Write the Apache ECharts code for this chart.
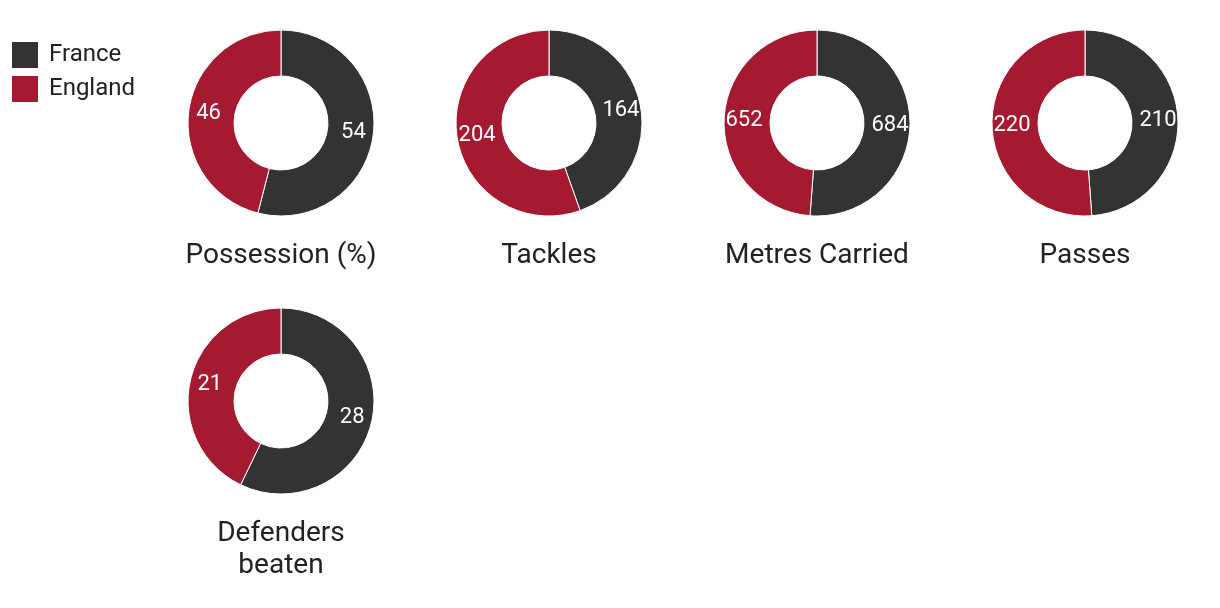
<!DOCTYPE html>
<html>
<head>
<meta charset="utf-8">
<script src="https://cdn.jsdelivr.net/npm/echarts@6/dist/echarts.min.js"></script>
<style>
html,body{margin:0;padding:0;background:#fff;}
#chart{width:1220px;height:608px;}
</style>
</head>
<body>
<div id="chart"></div>
<script>
const teams = ['France', 'England'];
const teamColors = ['#333333', '#a51931'];
const metrics = ['Possession (%)', 'Tackles', 'Metres Carried', 'Passes', 'Defenders\nbeaten'];
const france = [54, 164, 684, 210, 28];
const england = [46, 204, 652, 220, 21];

const FONT = 'Roboto, "Noto Sans", sans-serif';
const chart = echarts.init(document.getElementById('chart'), null, {renderer: 'canvas'});

function centerOf(i) {
  const col = i % 4, row = Math.floor(i / 4);
  return [281 + 268 * col, 123 + 278 * row];
}

const series = metrics.map((m, i) => ({
  type: 'pie',
  name: m,
  center: centerOf(i),
  radius: [47, 93],
  startAngle: 90,
  clockwise: true,
  animation: false,
  silent: true,
  itemStyle: {borderColor: '#ffffff', borderWidth: 1},
  label: {
    show: true,
    position: 'inside',
    formatter: '{c}',
    color: '#ffffff',
    fontSize: 22,
    fontFamily: FONT,
    padding: [4, 0, 0, 0]
  },
  labelLine: {show: false},
  emphasis: {disabled: true},
  data: [
    {name: teams[0], value: france[i], itemStyle: {color: teamColors[0]}},
    {name: teams[1], value: england[i], itemStyle: {color: teamColors[1]}}
  ]
}));

const graphics = metrics.map((m, i) => {
  const c = centerOf(i);
  return {
    type: 'text',
    x: c[0],
    y: c[1] + 133 - 16,
    silent: true,
    style: {
      text: m,
      fill: '#222222',
      fontSize: 28,
      fontFamily: FONT,
      lineHeight: 32,
      align: 'center',
      verticalAlign: 'top'
    }
  };
});

chart.setOption({
  backgroundColor: '#ffffff',
  color: teamColors,
  legend: {
    data: teams,
    orient: 'vertical',
    left: 10,
    top: 40,
    padding: 0,
    itemWidth: 28,
    itemHeight: 28,
    itemGap: 4,
    icon: 'rect',
    selectedMode: false,
    textStyle: {fontSize: 24, color: '#222222', fontFamily: FONT, padding: [2, 0, 0, 5]}
  },
  graphic: graphics,
  series: series
});
</script>
</body>
</html>
